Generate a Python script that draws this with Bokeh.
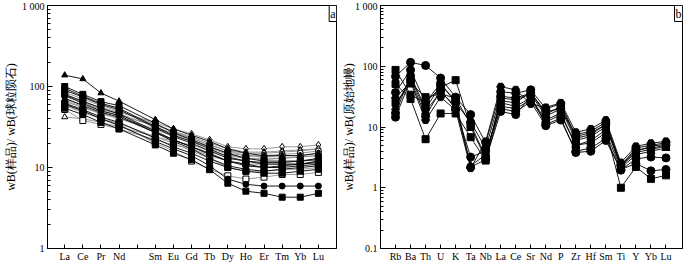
from bokeh.plotting import figure
from bokeh.layouts import row
from bokeh.models import FixedTicker, Range1d, Label
from bokeh.embed import file_html
from bokeh.resources import INLINE

# ---------------- Left panel: chondrite-normalised REE ----------------
ree_labels = ["La", "Ce", "Pr", "Nd", "", "Sm", "Eu", "Gd", "Tb", "Dy", "Ho", "Er", "Tm", "Yb", "Lu"]
ree_pos = [0, 1, 2, 3, 5, 6, 7, 8, 9, 10, 11, 12, 13, 14]  # Pm (4) has no data

ree_s01 = [138, 124, 83, 66, 39, 30, 25, 21, 17, 15, 14, 14, 14, 15]
ree_s02 = [100, 80, 65, 58, 35, 27, 22, 18, 15, 13, 12, 12, 12, 13]
ree_s03 = [90, 74, 60, 52, 31, 24, 20, 16, 13, 12, 11, 11, 11, 12]
ree_s04 = [80, 66, 54, 46, 28, 22, 18, 15, 12, 11, 10, 10, 10.5, 11]
ree_s05 = [54, 45, 36, 30, 19, 15, 12.5, 9.4, 6.4, 5.1, 4.8, 4.3, 4.3, 4.8]
ree_s06 = [60, 50, 40, 33, 21, 17, 14, 10.5, 7.2, 6.2, 5.9, 5.9, 5.9, 5.9]
ree_s07 = [42, 40, 36, 32, 24, 21, 19, 16, 14, 13, 13, 13, 13.5, 14]
ree_s08 = [52, 38, 34, 30, 22, 19, 17, 14, 12, 11, 11, 11, 11, 12]
ree_s09 = [62, 50, 40, 34, 20, 16, 12, 9.5, 7.9, 7.2, 7.6, 8.2, 8.2, 8.7]
ree_s10 = [75, 65, 55, 48, 36, 30, 26, 22, 18, 17, 17, 18, 18, 19]
ree_s11 = [70, 60, 50, 44, 33, 28, 24, 20, 17, 15.5, 15.5, 16, 16.5, 17]
ree_s12 = [85, 70, 58, 50, 34, 28, 23, 19, 16, 14, 14, 14.5, 15, 16]
ree_s13 = [65, 55, 46, 40, 29, 25, 21, 18, 15, 14, 13.5, 14, 14, 15]
ree_s14 = [72, 58, 48, 42, 27, 22, 18, 14.5, 12, 10.5, 10, 10.5, 11, 11.5]
ree_s15 = [95, 76, 62, 54, 32, 25, 21, 17, 13.5, 12, 11.5, 11.5, 12, 12.5]
ree_s16 = [58, 48, 40, 35, 24, 20, 16, 13, 10, 9, 9, 9.5, 9.5, 10]
ree_s17 = [78, 62, 50, 44, 27, 21, 17, 13, 10.5, 9.5, 9, 9.5, 10, 10.5]
ree_s18 = [68, 56, 47, 41, 30, 27, 23, 19, 16, 15, 15, 15.5, 16, 17]
ree_s19 = [62, 52, 42, 36, 23, 18, 15, 12, 10, 9, 8.5, 8.5, 9, 9.5]
ree_s20 = [80, 64, 52, 46, 32, 26, 22, 17.5, 14.5, 13, 12.5, 13, 13.5, 14]

# (values, marker, filled)
ree_series = [
    (ree_s10, "diamond", False), (ree_s11, "diamond", False), (ree_s18, "diamond", False),
    (ree_s12, "circle", False), (ree_s13, "circle", False), (ree_s20, "circle", False),
    (ree_s07, "triangle", False), (ree_s08, "square", False), (ree_s09, "square", False),
    (ree_s16, "square", False),
    (ree_s01, "triangle", True), (ree_s02, "square", True), (ree_s03, "square", True),
    (ree_s04, "square", True), (ree_s05, "square", True), (ree_s06, "circle", True),
    (ree_s14, "diamond", True), (ree_s15, "circle", True), (ree_s17, "triangle", True),
    (ree_s19, "square", True),
]

# ---------------- Right panel: primitive-mantle normalised spider ----------------
te_labels = ["Rb", "Ba", "Th", "U", "K", "Ta", "Nb", "La", "Ce", "Sr", "Nd", "P",
             "Zr", "Hf", "Sm", "Ti", "Y", "Yb", "Lu"]
te_pos = list(range(len(te_labels)))

te_s1 = [68, 116, 103, 64, 31, 16, 5.5, 38, 36, 41, 20, 24, 7, 8, 11, 2.3, 4.5, 5, 5.5]
te_s2 = [87, 34, 25, 45, 59, 10, 3.0, 30, 28, 35, 15, 20, 6, 7, 10, 2.2, 4, 4.8, 5.2]
te_s3 = [51, 29, 6.3, 16.7, 16.7, 6.8, 2.8, 22, 20, 28, 12, 16, 5, 6, 9, 1.0, 2.2, 1.4, 1.6]
te_s4 = [37, 87, 25, 53, 25, 12, 4.5, 32, 30, 36, 18, 20, 7.5, 8.5, 12, 2.4, 4.2, 4.5, 5]
te_s5 = [14.5, 60, 15, 40, 20, 3.2, 4.0, 20, 18, 26, 10.5, 13, 4, 4.5, 6.5, 2.0, 2.5, 1.9, 2.0]
te_s6 = [21, 65, 18, 38, 22, 2.3, 3.5, 25, 22, 30, 13, 17, 5, 5.5, 8, 2.1, 3.5, 4, 4.5]
te_s7 = [30, 55, 13, 31, 19, 2.1, 5.8, 46, 41, 24, 21, 25, 8.2, 9.3, 13, 2.6, 4.8, 5.4, 5.8]
te_s8 = [17, 70, 20, 48, 28, 2.2, 2.9, 18, 16, 32, 11, 14, 3.8, 4.0, 6.0, 1.95, 3, 3.2, 3.1]
te_s9 = [25, 52, 31, 35, 30, 11, 3.2, 27, 25, 38, 16, 22, 6.5, 7.5, 11, 2.3, 3.8, 4.3, 4.8]

te_series = [
    (te_s1, "circle"), (te_s2, "square"), (te_s3, "square"), (te_s4, "circle"),
    (te_s5, "circle"), (te_s6, "triangle"), (te_s7, "hex"), (te_s8, "circle"),
    (te_s9, "square"),
]

SERIF = "Liberation Serif"


def style(p, ticks, labels, yticks, ylabels, yminor, ylabel):
    p.grid.visible = False
    p.outline_line_color = "black"
    p.outline_line_width = 1
    p.background_fill_color = "white"
    p.border_fill_color = "white"
    p.xaxis.ticker = FixedTicker(ticks=ticks)
    p.xaxis.major_label_overrides = {t: l for t, l in zip(ticks, labels)}
    p.xaxis.major_tick_in = 4
    p.xaxis.major_tick_out = 0
    p.xaxis.minor_tick_line_color = None
    p.yaxis.ticker = FixedTicker(ticks=yticks, minor_ticks=yminor)
    p.yaxis.major_label_overrides = {t: l for t, l in zip(yticks, ylabels)}
    p.yaxis.major_tick_in = 5
    p.yaxis.major_tick_out = 0
    p.yaxis.minor_tick_in = 3
    p.yaxis.minor_tick_out = 0
    for ax in (p.xaxis, p.yaxis):
        ax.axis_line_color = "black"
        ax.major_tick_line_color = "black"
        ax.major_label_text_font = SERIF
        ax.major_label_text_font_size = "10px"
        ax.major_label_text_color = "black"
        ax.major_label_standoff = 3
    p.xaxis.major_label_standoff = 2
    p.yaxis.minor_tick_line_color = "black"
    p.yaxis.axis_label = ylabel
    p.yaxis.axis_label_text_font = SERIF
    p.yaxis.axis_label_text_font_size = "12px"
    p.yaxis.axis_label_text_font_style = "normal"
    p.yaxis.axis_label_text_color = "black"
    p.yaxis.axis_label_standoff = 1


def minor_list(lo_exp, hi_exp):
    out = []
    for e in range(lo_exp, hi_exp):
        for m in range(2, 10):
            out.append(m * 10.0 ** e)
    return out


p1 = figure(width=338, height=264, x_range=Range1d(-0.95, 15.0), y_range=Range1d(1, 1000),
            y_axis_type="log", output_backend="svg", toolbar_location=None,
            min_border_left=28, min_border_right=2, min_border_top=5, min_border_bottom=14)
style(p1, list(range(15)), ree_labels, [1, 10, 100, 1000], ["1", "10", "100", "1 000"],
      minor_list(0, 3), "wB(样品)/ wB(球粒陨石)")

for vals, mk, filled in ree_series:
    col = "black" if filled else "#8c8c8c"
    p1.line(ree_pos, vals, line_color=col, line_width=0.9)
for vals, mk, filled in ree_series:
    p1.scatter(ree_pos, vals, marker=mk, size=6 if mk != "diamond" else 7,
               fill_color="black" if filled else "white", line_color="black", line_width=1)

p1.add_layout(Label(x=15.0, y=1000, text="a", text_align="right", text_baseline="top",
                    text_font=SERIF, text_font_size="12px", text_color="black",
                    border_line_color="black", background_fill_color="white", padding=1))

p2 = figure(width=346, height=264, x_range=Range1d(-1.0, 19.1), y_range=Range1d(0.1, 1000),
            y_axis_type="log", output_backend="svg", toolbar_location=None,
            min_border_left=41, min_border_right=2, min_border_top=5, min_border_bottom=14)
style(p2, te_pos, te_labels, [0.1, 1, 10, 100, 1000], ["0.1", "1", "10", "100", "1 000"],
      minor_list(-1, 3), "wB(样品)/ wB(原始地幔)")
p2.yaxis.axis_label_standoff = -4

for vals, mk in te_series:
    p2.line(te_pos, vals, line_color="black", line_width=0.9)
for vals, mk in te_series:
    p2.scatter(te_pos, vals, marker=mk, size=8 if mk != "square" else 7,
               fill_color="black", line_color="black")

p2.add_layout(Label(x=19.1, y=1000, text="b", text_align="right", text_baseline="top",
                    text_font=SERIF, text_font_size="12px", text_color="black",
                    border_line_color="black", background_fill_color="white", padding=1))

layout = row(p1, p2)
open("out.html", "w").write(file_html(layout, INLINE))
